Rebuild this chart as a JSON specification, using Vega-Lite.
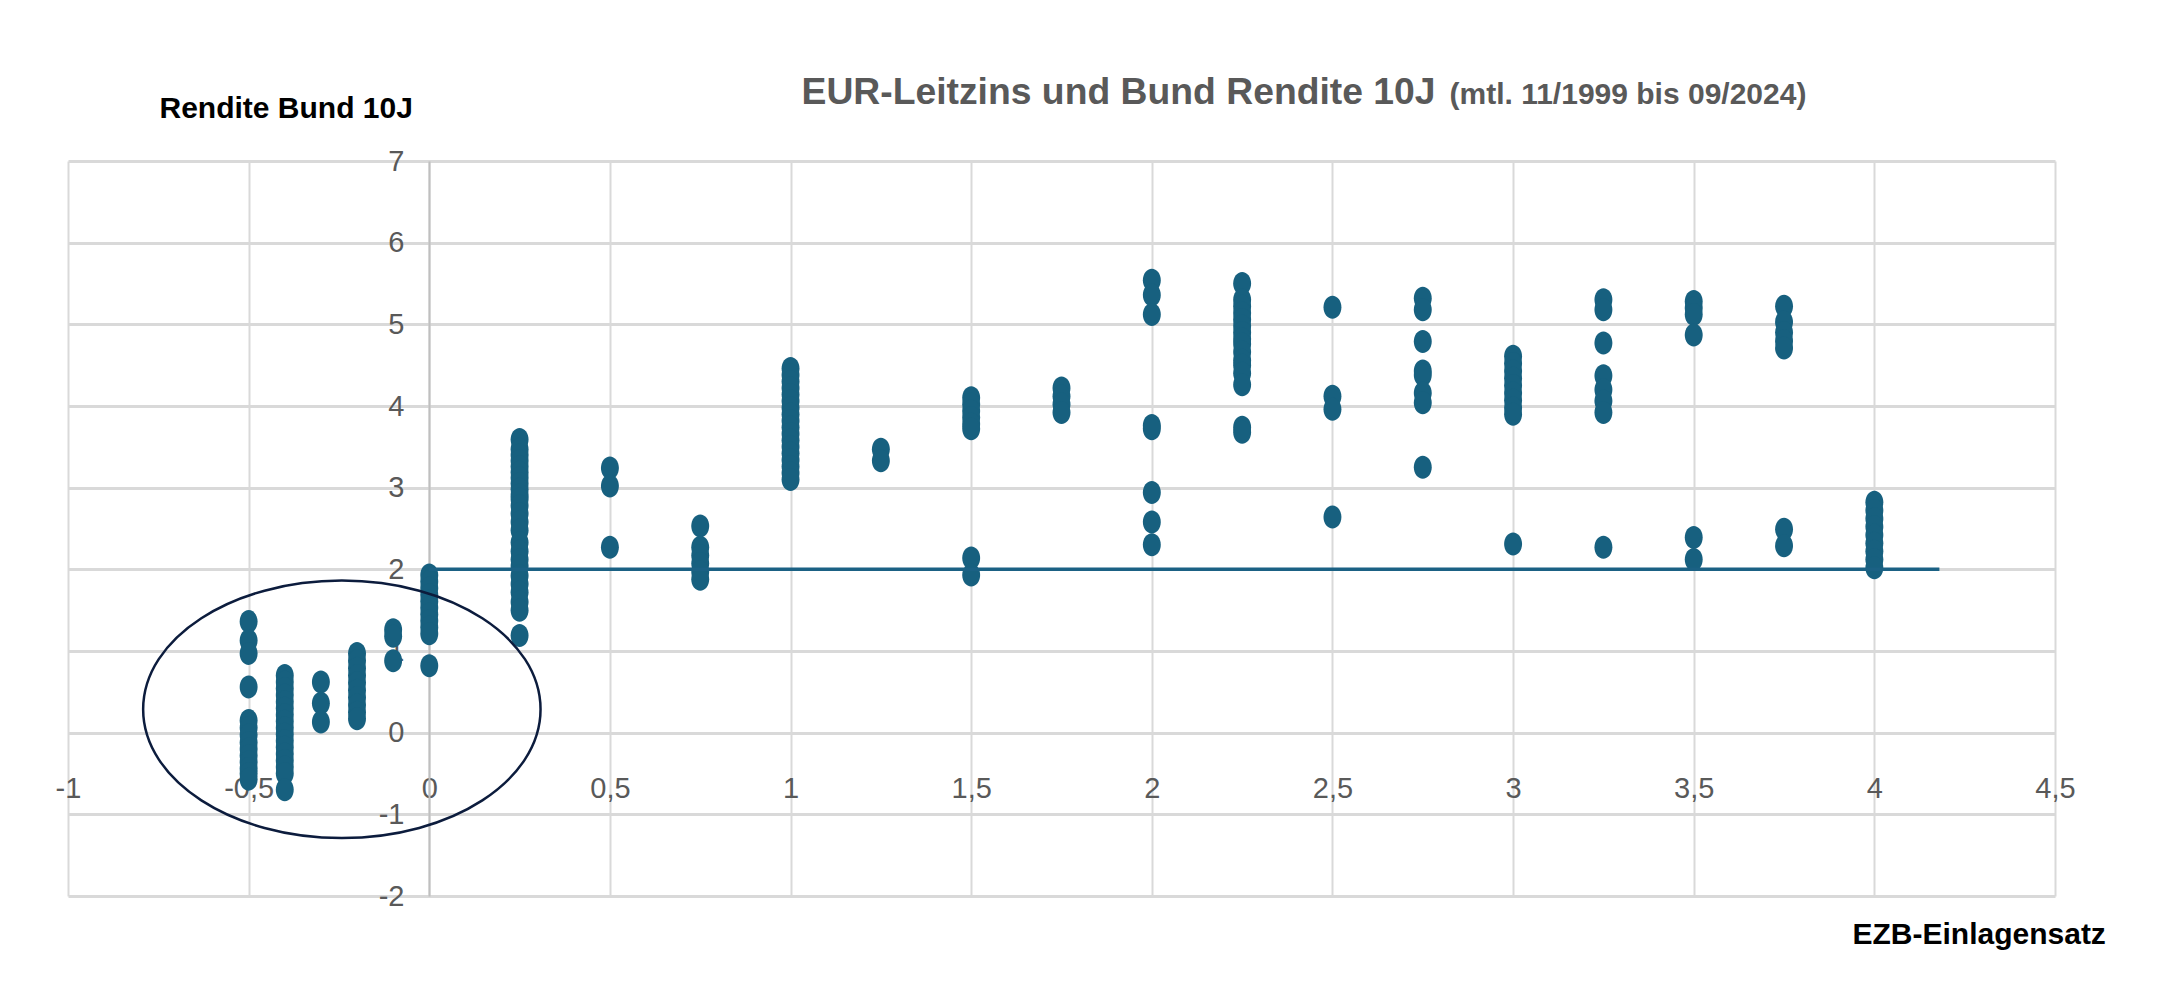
{
  "$schema": "https://vega.github.io/schema/vega-lite/v6.json",
  "autosize": {"type": "none"},
  "padding": {"left": 68, "top": 161, "right": 104, "bottom": 105},
  "width": 1987,
  "height": 735,
  "background": "#ffffff",
  "config": {
    "view": {"stroke": null},
    "font": "Liberation Sans, Arial, sans-serif"
  },
  "datasets": {
    "punkte": [
      {"Einlagensatz": -0.5, "Rendite": 1.36}, {"Einlagensatz": -0.5, "Rendite": 1.13}, {"Einlagensatz": -0.5, "Rendite": 0.97}, {"Einlagensatz": -0.5, "Rendite": 0.56},
      {"Einlagensatz": -0.5, "Rendite": 0.15}, {"Einlagensatz": -0.5, "Rendite": 0.06}, {"Einlagensatz": -0.5, "Rendite": -0.03}, {"Einlagensatz": -0.5, "Rendite": -0.12},
      {"Einlagensatz": -0.5, "Rendite": -0.2}, {"Einlagensatz": -0.5, "Rendite": -0.28}, {"Einlagensatz": -0.5, "Rendite": -0.36}, {"Einlagensatz": -0.5, "Rendite": -0.44},
      {"Einlagensatz": -0.5, "Rendite": -0.5}, {"Einlagensatz": -0.5, "Rendite": -0.57},
      {"Einlagensatz": -0.4, "Rendite": 0.7}, {"Einlagensatz": -0.4, "Rendite": 0.62}, {"Einlagensatz": -0.4, "Rendite": 0.54}, {"Einlagensatz": -0.4, "Rendite": 0.46},
      {"Einlagensatz": -0.4, "Rendite": 0.38}, {"Einlagensatz": -0.4, "Rendite": 0.3}, {"Einlagensatz": -0.4, "Rendite": 0.22}, {"Einlagensatz": -0.4, "Rendite": 0.14},
      {"Einlagensatz": -0.4, "Rendite": 0.06}, {"Einlagensatz": -0.4, "Rendite": -0.02}, {"Einlagensatz": -0.4, "Rendite": -0.1}, {"Einlagensatz": -0.4, "Rendite": -0.18},
      {"Einlagensatz": -0.4, "Rendite": -0.26}, {"Einlagensatz": -0.4, "Rendite": -0.34}, {"Einlagensatz": -0.4, "Rendite": -0.42}, {"Einlagensatz": -0.4, "Rendite": -0.5},
      {"Einlagensatz": -0.4, "Rendite": -0.7},
      {"Einlagensatz": -0.3, "Rendite": 0.62}, {"Einlagensatz": -0.3, "Rendite": 0.36}, {"Einlagensatz": -0.3, "Rendite": 0.13},
      {"Einlagensatz": -0.2, "Rendite": 0.97}, {"Einlagensatz": -0.2, "Rendite": 0.88}, {"Einlagensatz": -0.2, "Rendite": 0.79}, {"Einlagensatz": -0.2, "Rendite": 0.7},
      {"Einlagensatz": -0.2, "Rendite": 0.61}, {"Einlagensatz": -0.2, "Rendite": 0.52}, {"Einlagensatz": -0.2, "Rendite": 0.43}, {"Einlagensatz": -0.2, "Rendite": 0.34},
      {"Einlagensatz": -0.2, "Rendite": 0.25}, {"Einlagensatz": -0.2, "Rendite": 0.17},
      {"Einlagensatz": -0.1, "Rendite": 1.26}, {"Einlagensatz": -0.1, "Rendite": 1.18}, {"Einlagensatz": -0.1, "Rendite": 0.88},
      {"Einlagensatz": 0, "Rendite": 1.93}, {"Einlagensatz": 0, "Rendite": 1.85}, {"Einlagensatz": 0, "Rendite": 1.77}, {"Einlagensatz": 0, "Rendite": 1.69},
      {"Einlagensatz": 0, "Rendite": 1.61}, {"Einlagensatz": 0, "Rendite": 1.53}, {"Einlagensatz": 0, "Rendite": 1.45}, {"Einlagensatz": 0, "Rendite": 1.37},
      {"Einlagensatz": 0, "Rendite": 1.29}, {"Einlagensatz": 0, "Rendite": 1.21}, {"Einlagensatz": 0, "Rendite": 0.82},
      {"Einlagensatz": 0.25, "Rendite": 3.59}, {"Einlagensatz": 0.25, "Rendite": 3.47}, {"Einlagensatz": 0.25, "Rendite": 3.4}, {"Einlagensatz": 0.25, "Rendite": 3.33},
      {"Einlagensatz": 0.25, "Rendite": 3.26}, {"Einlagensatz": 0.25, "Rendite": 3.19}, {"Einlagensatz": 0.25, "Rendite": 3.12}, {"Einlagensatz": 0.25, "Rendite": 3.05},
      {"Einlagensatz": 0.25, "Rendite": 2.98}, {"Einlagensatz": 0.25, "Rendite": 2.91}, {"Einlagensatz": 0.25, "Rendite": 2.86}, {"Einlagensatz": 0.25, "Rendite": 2.78},
      {"Einlagensatz": 0.25, "Rendite": 2.68}, {"Einlagensatz": 0.25, "Rendite": 2.58}, {"Einlagensatz": 0.25, "Rendite": 2.48}, {"Einlagensatz": 0.25, "Rendite": 2.33},
      {"Einlagensatz": 0.25, "Rendite": 2.22}, {"Einlagensatz": 0.25, "Rendite": 2.12}, {"Einlagensatz": 0.25, "Rendite": 2.04}, {"Einlagensatz": 0.25, "Rendite": 1.92},
      {"Einlagensatz": 0.25, "Rendite": 1.82}, {"Einlagensatz": 0.25, "Rendite": 1.72}, {"Einlagensatz": 0.25, "Rendite": 1.6}, {"Einlagensatz": 0.25, "Rendite": 1.5},
      {"Einlagensatz": 0.25, "Rendite": 1.19},
      {"Einlagensatz": 0.5, "Rendite": 3.24}, {"Einlagensatz": 0.5, "Rendite": 3.02}, {"Einlagensatz": 0.5, "Rendite": 2.27},
      {"Einlagensatz": 0.75, "Rendite": 2.53}, {"Einlagensatz": 0.75, "Rendite": 2.27}, {"Einlagensatz": 0.75, "Rendite": 2.17}, {"Einlagensatz": 0.75, "Rendite": 2.07},
      {"Einlagensatz": 0.75, "Rendite": 1.97}, {"Einlagensatz": 0.75, "Rendite": 1.88},
      {"Einlagensatz": 1, "Rendite": 4.46}, {"Einlagensatz": 1, "Rendite": 4.38}, {"Einlagensatz": 1, "Rendite": 4.3}, {"Einlagensatz": 1, "Rendite": 4.22},
      {"Einlagensatz": 1, "Rendite": 4.14}, {"Einlagensatz": 1, "Rendite": 4.06}, {"Einlagensatz": 1, "Rendite": 3.98}, {"Einlagensatz": 1, "Rendite": 3.9},
      {"Einlagensatz": 1, "Rendite": 3.82}, {"Einlagensatz": 1, "Rendite": 3.74}, {"Einlagensatz": 1, "Rendite": 3.66}, {"Einlagensatz": 1, "Rendite": 3.58},
      {"Einlagensatz": 1, "Rendite": 3.5}, {"Einlagensatz": 1, "Rendite": 3.42}, {"Einlagensatz": 1, "Rendite": 3.34}, {"Einlagensatz": 1, "Rendite": 3.26},
      {"Einlagensatz": 1, "Rendite": 3.18}, {"Einlagensatz": 1, "Rendite": 3.1},
      {"Einlagensatz": 1.25, "Rendite": 3.47}, {"Einlagensatz": 1.25, "Rendite": 3.33},
      {"Einlagensatz": 1.5, "Rendite": 4.1}, {"Einlagensatz": 1.5, "Rendite": 4.02}, {"Einlagensatz": 1.5, "Rendite": 3.94}, {"Einlagensatz": 1.5, "Rendite": 3.86},
      {"Einlagensatz": 1.5, "Rendite": 3.78}, {"Einlagensatz": 1.5, "Rendite": 3.72}, {"Einlagensatz": 1.5, "Rendite": 2.14}, {"Einlagensatz": 1.5, "Rendite": 1.93},
      {"Einlagensatz": 1.75, "Rendite": 4.22}, {"Einlagensatz": 1.75, "Rendite": 4.12}, {"Einlagensatz": 1.75, "Rendite": 4.02}, {"Einlagensatz": 1.75, "Rendite": 3.92},
      {"Einlagensatz": 2, "Rendite": 5.54}, {"Einlagensatz": 2, "Rendite": 5.36}, {"Einlagensatz": 2, "Rendite": 5.12}, {"Einlagensatz": 2, "Rendite": 3.76},
      {"Einlagensatz": 2, "Rendite": 3.72}, {"Einlagensatz": 2, "Rendite": 2.94}, {"Einlagensatz": 2, "Rendite": 2.58}, {"Einlagensatz": 2, "Rendite": 2.3},
      {"Einlagensatz": 2.25, "Rendite": 5.5}, {"Einlagensatz": 2.25, "Rendite": 5.3}, {"Einlagensatz": 2.25, "Rendite": 5.22}, {"Einlagensatz": 2.25, "Rendite": 5.14},
      {"Einlagensatz": 2.25, "Rendite": 5.06}, {"Einlagensatz": 2.25, "Rendite": 4.98}, {"Einlagensatz": 2.25, "Rendite": 4.9}, {"Einlagensatz": 2.25, "Rendite": 4.82},
      {"Einlagensatz": 2.25, "Rendite": 4.76}, {"Einlagensatz": 2.25, "Rendite": 4.66}, {"Einlagensatz": 2.25, "Rendite": 4.56}, {"Einlagensatz": 2.25, "Rendite": 4.5},
      {"Einlagensatz": 2.25, "Rendite": 4.4}, {"Einlagensatz": 2.25, "Rendite": 4.26}, {"Einlagensatz": 2.25, "Rendite": 3.74}, {"Einlagensatz": 2.25, "Rendite": 3.68},
      {"Einlagensatz": 2.5, "Rendite": 5.21}, {"Einlagensatz": 2.5, "Rendite": 4.12}, {"Einlagensatz": 2.5, "Rendite": 3.96}, {"Einlagensatz": 2.5, "Rendite": 2.64},
      {"Einlagensatz": 2.75, "Rendite": 5.32}, {"Einlagensatz": 2.75, "Rendite": 5.18}, {"Einlagensatz": 2.75, "Rendite": 4.79}, {"Einlagensatz": 2.75, "Rendite": 4.43},
      {"Einlagensatz": 2.75, "Rendite": 4.38}, {"Einlagensatz": 2.75, "Rendite": 4.16}, {"Einlagensatz": 2.75, "Rendite": 4.04}, {"Einlagensatz": 2.75, "Rendite": 3.25},
      {"Einlagensatz": 3, "Rendite": 4.61}, {"Einlagensatz": 3, "Rendite": 4.52}, {"Einlagensatz": 3, "Rendite": 4.43}, {"Einlagensatz": 3, "Rendite": 4.34},
      {"Einlagensatz": 3, "Rendite": 4.25}, {"Einlagensatz": 3, "Rendite": 4.16}, {"Einlagensatz": 3, "Rendite": 4.07}, {"Einlagensatz": 3, "Rendite": 3.98},
      {"Einlagensatz": 3, "Rendite": 3.9}, {"Einlagensatz": 3, "Rendite": 2.31},
      {"Einlagensatz": 3.25, "Rendite": 5.3}, {"Einlagensatz": 3.25, "Rendite": 5.18}, {"Einlagensatz": 3.25, "Rendite": 4.77}, {"Einlagensatz": 3.25, "Rendite": 4.37},
      {"Einlagensatz": 3.25, "Rendite": 4.2}, {"Einlagensatz": 3.25, "Rendite": 4.06}, {"Einlagensatz": 3.25, "Rendite": 3.92}, {"Einlagensatz": 3.25, "Rendite": 2.27},
      {"Einlagensatz": 3.5, "Rendite": 5.28}, {"Einlagensatz": 3.5, "Rendite": 5.2}, {"Einlagensatz": 3.5, "Rendite": 5.12}, {"Einlagensatz": 3.5, "Rendite": 4.87},
      {"Einlagensatz": 3.5, "Rendite": 2.39}, {"Einlagensatz": 3.5, "Rendite": 2.12},
      {"Einlagensatz": 3.75, "Rendite": 5.22}, {"Einlagensatz": 3.75, "Rendite": 5.03}, {"Einlagensatz": 3.75, "Rendite": 4.9}, {"Einlagensatz": 3.75, "Rendite": 4.8},
      {"Einlagensatz": 3.75, "Rendite": 4.71}, {"Einlagensatz": 3.75, "Rendite": 2.49}, {"Einlagensatz": 3.75, "Rendite": 2.29},
      {"Einlagensatz": 4, "Rendite": 2.82}, {"Einlagensatz": 4, "Rendite": 2.72}, {"Einlagensatz": 4, "Rendite": 2.62}, {"Einlagensatz": 4, "Rendite": 2.52},
      {"Einlagensatz": 4, "Rendite": 2.42}, {"Einlagensatz": 4, "Rendite": 2.32}, {"Einlagensatz": 4, "Rendite": 2.22}, {"Einlagensatz": 4, "Rendite": 2.12},
      {"Einlagensatz": 4, "Rendite": 2.02}
    ],
    "linie": [{"von": 0, "bis": 4.18, "Rendite": 2}],
    "ellipse": [{"Einlagensatz": -0.242, "Rendite": 0.286}]
  },
  "resolve": {"axis": {"x": "independent", "y": "independent"}},
  "layer": [
    {
      "data": {"name": "punkte"},
      "mark": {
        "type": "point",
        "filled": true,
        "shape": "M0,-1A0.78,1,0,1,0,0,1A0.78,1,0,1,0,0,-1Z",
        "size": 529,
        "color": "#17607f",
        "opacity": 1
      },
      "encoding": {
        "x": {
          "field": "Einlagensatz", "type": "quantitative",
          "scale": {"domain": [-1, 4.5], "nice": false, "zero": false},
          "axis": {
            "orient": "bottom",
            "values": [-1, -0.5, 0, 0.5, 1, 1.5, 2, 2.5, 3, 3.5, 4, 4.5],
            "offset": -163,
            "domain": true, "domainColor": "#d9d9d9", "domainWidth": 3,
            "ticks": false, "tickSize": 0,
            "grid": true, "gridColor": "#d9d9d9", "gridWidth": 2,
            "labelExpr": "replace(toString(datum.value), '.', ',')",
            "labelFontSize": 29, "labelColor": "#595959",
            "labelPadding": 64, "labelBaseline": "alphabetic",
            "labelFlush": false, "labelOverlap": false,
            "title": "EZB-Einlagensatz",
            "titleX": 1784, "titleY": 210,
            "titleAlign": "left", "titleBaseline": "alphabetic",
            "titleFontSize": 30, "titleFontWeight": "bold", "titleColor": "#000000"
          }
        },
        "y": {
          "field": "Rendite", "type": "quantitative",
          "scale": {"domain": [-2, 7], "nice": false, "zero": false},
          "axis": {
            "orient": "left",
            "values": [-2, -1, 0, 1, 2, 3, 4, 5, 6, 7],
            "offset": -361,
            "domain": true, "domainColor": "#bfbfbf", "domainWidth": 2,
            "ticks": false, "tickSize": 0,
            "grid": true, "gridColor": "#d9d9d9", "gridWidth": 3,
            "labelExpr": "toString(datum.value)",
            "labelFontSize": 29, "labelColor": "#595959",
            "labelPadding": 25, "labelAlign": "right", "labelBaseline": "middle",
            "labelFlush": false, "labelOverlap": false,
            "title": "Rendite Bund 10J",
            "titleAngle": 0, "titleX": -270, "titleY": -44,
            "titleAlign": "left", "titleBaseline": "alphabetic",
            "titleFontSize": 30, "titleFontWeight": "bold", "titleColor": "#000000"
          }
        }
      }
    },
    {
      "data": {"name": "linie"},
      "mark": {"type": "rule", "color": "#1b6184", "strokeWidth": 3.5},
      "encoding": {
        "x": {
          "field": "von", "type": "quantitative",
          "scale": {"domain": [-1, 4.5], "nice": false, "zero": false},
          "axis": {
            "orient": "top",
            "labels": false, "ticks": false, "domain": false, "grid": false,
            "title": "EUR-Leitzins und Bund Rendite 10J",
            "titleX": 733, "titleY": -58,
            "titleAlign": "left", "titleBaseline": "alphabetic",
            "titleFontSize": 37.3, "titleFontWeight": "bold", "titleColor": "#595959"
          }
        },
        "x2": {"field": "bis"},
        "y": {
          "field": "Rendite", "type": "quantitative",
          "scale": {"domain": [-2, 7], "nice": false, "zero": false},
          "axis": {
            "orient": "right",
            "labels": false, "ticks": false, "domain": false, "grid": false,
            "title": "(mtl. 11/1999 bis 09/2024)",
            "titleAngle": 0, "titleX": -606, "titleY": -58,
            "titleAlign": "left", "titleBaseline": "alphabetic",
            "titleFontSize": 30, "titleFontWeight": "bold", "titleColor": "#595959"
          }
        }
      }
    },
    {
      "data": {"name": "ellipse"},
      "mark": {
        "type": "point",
        "filled": false,
        "shape": "M-1,0A1,0.648,0,1,0,1,0A1,0.648,0,1,0,-1,0Z",
        "size": 157927,
        "stroke": "#0c1c3d",
        "strokeWidth": 2.5,
        "opacity": 1
      },
      "encoding": {
        "x": {"field": "Einlagensatz", "type": "quantitative", "axis": null},
        "y": {"field": "Rendite", "type": "quantitative", "axis": null}
      }
    }
  ]
}
